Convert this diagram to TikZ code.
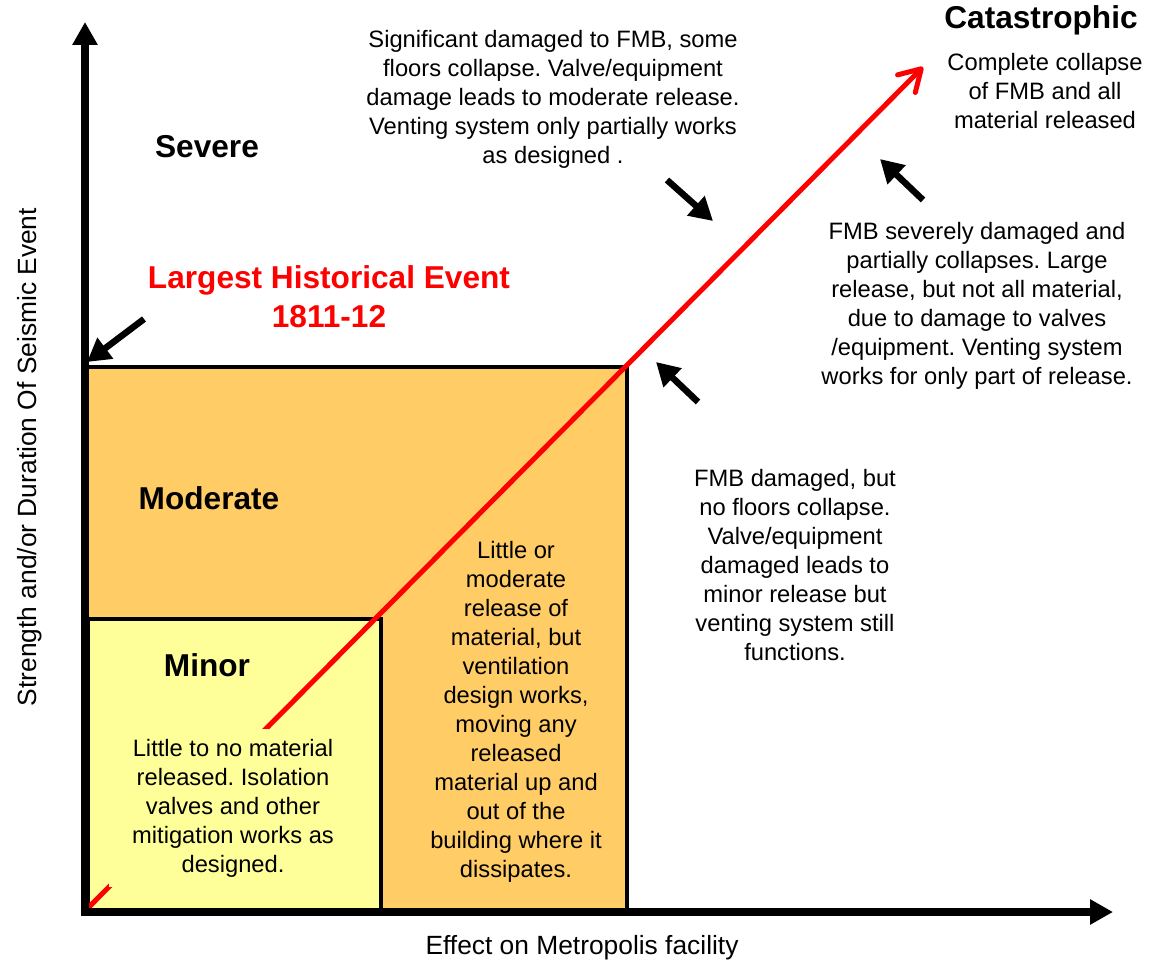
\documentclass[tikz,border=0pt]{standalone}
\usepackage{fontspec}
\setmainfont{Liberation Sans}
\usepackage{tikz}
\usetikzlibrary{positioning,arrows.meta,shapes}
\frenchspacing

\definecolor{zoneorange}{HTML}{FFCC66}
\definecolor{zoneyellow}{HTML}{FFFF99}
\definecolor{eventred}{HTML}{FF0000}

\begin{document}
\begin{tikzpicture}[x=0.02cm,y=-0.02cm]
    % Define styles
    \tikzstyle{zone} = [draw=black, line width=0.08cm]
    \tikzstyle{heading} = [font=\fontsize{18}{22}\selectfont\bfseries, text centered]
    \tikzstyle{note} = [font=\fontsize{13.5}{16.5}\selectfont, align=center, inner sep=0pt]
    \tikzstyle{axis} = [line width=0.16cm, -{Triangle[length=0.46cm,width=0.48cm]}]
    \tikzstyle{pointer} = [line width=0.13cm, -{Triangle[length=0.46cm,width=0.5cm]}]
    \tikzstyle{trend} = [line width=0.1cm, draw=eventred, line cap=round, -{Straight Barb[length=0.42cm,width=0.5cm,round]}]

    \useasboundingbox (0,0) rectangle (1165,963);

    % Zones
    \coordinate (origin) at (85,912);
    \draw[zone, fill=zoneorange] (87,367) rectangle (627,912);
    \draw[zone, fill=zoneyellow] (88,619) rectangle (381,912);

    % Trend line
    \coordinate (start) at (88,908);
    \coordinate (tip) at (923,67);
    \draw[trend] (start) -- (tip);

    % Axes
    \coordinate (ytop) at (85,22);
    \coordinate (xend) at (1113,912);
    \draw[axis] (85,916) -- (ytop);
    \draw[axis] (81,912) -- (xend);

    % Zone texts
    \node[note, fill=zoneyellow, minimum width=4.96cm, minimum height=3.16cm] (minortext) at (233,808)
        {Little to no material\\released. Isolation\\valves and other\\mitigation works as\\designed.};
    \node[note] (moderatetext) at (516,712)
        {Little or\\moderate\\release of\\material, but\\ventilation\\design works,\\moving any\\released\\material up and\\out of the\\building where it\\dissipates.};
    \node[note] (damagedtext) at (795,565)
        {FMB damaged, but\\no floors collapse.\\Valve/equipment\\damaged leads to\\minor release but\\venting system still\\functions.};
    \node[note] (severetext) at (977,306)
        {FMB severely damaged and\\partially collapses. Large\\release, but not all material,\\due to damage to valves\\/equipment. Venting system\\works for only part of release.};
    \node[note] (significanttext) at (553,99)
        {Significant damaged to FMB, some\\floors collapse. Valve/equipment\\damage leads to moderate release.\\Venting system only partially works\\as designed .};
    \node[note] (completetext) at (1045,91)
        {Complete collapse\\of FMB and all\\material released};

    % Headings
    \node[heading] (minor) at (207,665) {Minor};
    \node[heading] (moderate) at (209,498) {Moderate};
    \node[heading] (severe) at (207,147) {Severe};
    \node[heading] (catastrophic) at (1041,20) {Catastrophic};
    \node[heading, text=eventred, align=center] (largest) at (329,297) {Largest Historical Event\\1811-12};

    % Pointers
    \coordinate (eventmark) at (87,362);
    \coordinate (moderatemark) at (656,362);
    \coordinate (severemark) at (713,221);
    \coordinate (catmark) at (880,159);
    \draw[pointer] (144,319) -- (eventmark);
    \draw[pointer] (698,402) -- (moderatemark);
    \draw[pointer] (667,180) -- (severemark);
    \draw[pointer] (923,200) -- (catmark);

    % Axis labels
    \node[font=\fontsize{15}{18}\selectfont] (xlabel) at (582,948) {Effect on Metropolis facility};
    \node[font=\fontsize{15}{18}\selectfont, rotate=90] (ylabel) at (30,457) {Strength and/or Duration Of Seismic Event};

\end{tikzpicture}
\end{document}
